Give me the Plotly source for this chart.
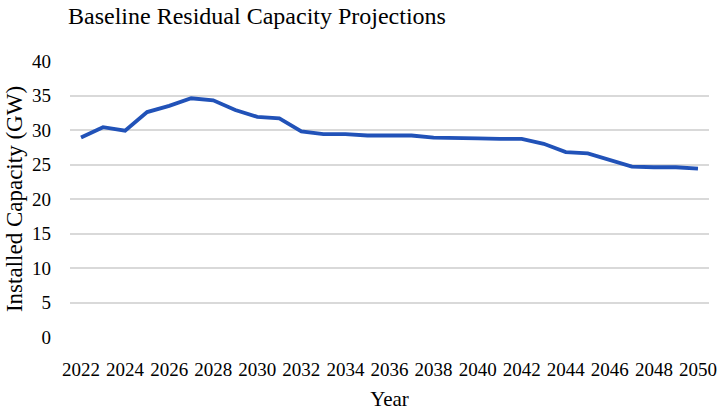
import plotly.graph_objects as go

years = list(range(2022, 2051))
capacity_gw = [28.9, 30.4, 29.9, 32.6, 33.5, 34.6, 34.3, 32.9, 31.9, 31.7,
               29.8, 29.4, 29.4, 29.2, 29.2, 29.2, 28.9, 28.9, 28.8, 28.7,
               28.7, 28.0, 26.8, 26.6, 25.7, 24.7, 24.6, 24.6, 24.4]
x_tick_vals = list(range(2022, 2051, 2))
y_tick_vals = list(range(0, 41, 5))

FONT = "Liberation Serif, Times New Roman, serif"

fig = go.Figure()
fig.add_trace(go.Scatter(
    x=years, y=capacity_gw, mode="lines",
    line=dict(color="#2152B8", width=3.8),
    showlegend=False,
))

fig.update_layout(
    width=722, height=411,
    margin=dict(l=70, r=13, t=61, b=74),
    paper_bgcolor="white", plot_bgcolor="white",
    font=dict(family=FONT, color="black", size=19),
    title=dict(text="Baseline Residual Capacity Projections",
               x=257 / 722, xanchor="center", y=1 - 16 / 411, yanchor="middle",
               font=dict(family=FONT, size=24, color="black")),
)
fig.update_xaxes(
    range=[2021.5, 2050.5], tickvals=x_tick_vals, automargin=False,
    showgrid=False, zeroline=False, showline=False, ticks="",
    tickfont=dict(family=FONT, size=19, color="black"), ticklabelstandoff=19,
    title=dict(text="Year", font=dict(family=FONT, size=21), standoff=14),
)
fig.update_yaxes(
    range=[0, 40], tickvals=y_tick_vals, automargin=False,
    showgrid=True, gridcolor="#D9D9D9", gridwidth=1.5,
    zeroline=False, showline=False, ticks="",
    tickfont=dict(family=FONT, size=19, color="black"), ticklabelstandoff=18,
    title=dict(text="Installed Capacity (GW)", font=dict(family=FONT, size=23), standoff=2),
)

fig.write_html("out.html")
